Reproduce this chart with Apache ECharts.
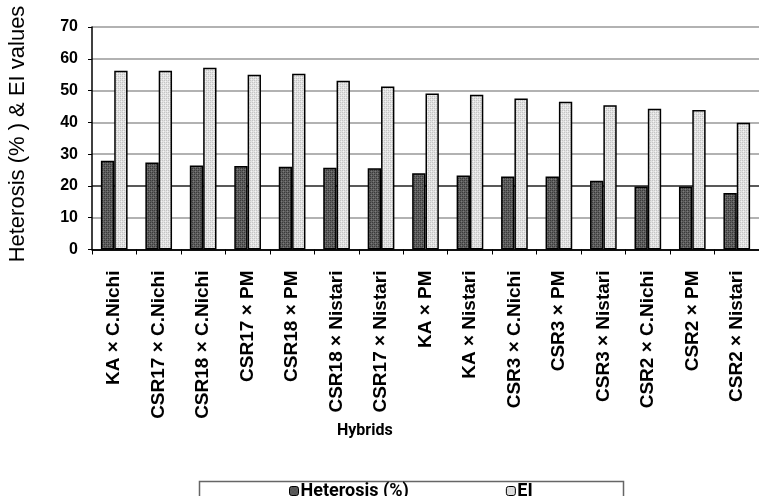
<!DOCTYPE html>
<html>
<head>
<meta charset="utf-8">
<script src="https://cdn.jsdelivr.net/npm/echarts@6/dist/echarts.min.js"></script>
<style>
  html, body { margin: 0; padding: 0; background: #fff; }
  #chart { width: 759px; height: 496px; }
</style>
</head>
<body>
<div id="chart"></div>
<script>
// Hybrid crosses, in order of decreasing heterosis
const hybrids = [
  'KA × C.Nichi', 'CSR17 × C.Nichi', 'CSR18 × C.Nichi', 'CSR17 × PM', 'CSR18 × PM',
  'CSR18 × Nistari', 'CSR17 × Nistari', 'KA × PM', 'KA × Nistari', 'CSR3 × C.Nichi',
  'CSR3 × PM', 'CSR3 × Nistari', 'CSR2 × C.Nichi', 'CSR2 × PM', 'CSR2 × Nistari'
];
const heterosis = [27.9, 27.4, 26.4, 26.3, 26.0, 25.7, 25.6, 24.0, 23.3, 23.0, 23.0, 21.6, 19.8, 19.8, 17.8];
const eiValues  = [56.2, 56.2, 57.2, 55.0, 55.3, 53.1, 51.3, 49.1, 48.7, 47.5, 46.5, 45.4, 44.3, 43.9, 39.9];
const yTicks = [0, 10, 20, 30, 40, 50, 60, 70];

// Small stippled fills for the bars
function stipple(base, dot, alt) {
  const c = document.createElement('canvas');
  c.width = 4; c.height = 4;
  const g = c.getContext('2d');
  g.fillStyle = base; g.fillRect(0, 0, 4, 4);
  g.fillStyle = dot;
  g.fillRect(0, 0, 1, 1); g.fillRect(2, 2, 1, 1);
  g.fillRect(2, 0, 1, 1); g.fillRect(0, 2, 1, 1);
  g.fillStyle = alt;
  g.fillRect(1, 1, 1, 1); g.fillRect(3, 3, 1, 1);
  return { image: c, repeat: 'repeat' };
}
const darkFill = stipple('#5e5e5e', '#3a3a3a', '#7a7a7a');
const lightFill = stipple('#e2e2e2', '#c4c4c4', '#f4f4f4');

const chart = echarts.init(document.getElementById('chart'), null, { renderer: 'canvas' });

const gridLeft = 92, gridTop = 27, gridWidth = 673.5, gridHeight = 222.5;

chart.setOption({
  animation: false,
  textStyle: { fontFamily: 'Liberation Sans, Arial, sans-serif' },
  grid: { left: gridLeft, top: gridTop, width: gridWidth, height: gridHeight, containLabel: false },
  legend: {
    left: 284, top: 477,
    itemWidth: 9, itemHeight: 9, itemGap: 97,
    textStyle: { fontFamily: 'Roboto, sans-serif', fontWeight: 'bold', fontSize: 18, color: '#000', padding: [0, 0, 0, -3] },
    data: [
      { name: 'Heterosis (%)', itemStyle: { color: darkFill, borderColor: '#000', borderWidth: 1 } },
      { name: 'EI', itemStyle: { color: lightFill, borderColor: '#000', borderWidth: 1 } }
    ]
  },
  xAxis: {
    type: 'category',
    data: hybrids,
    boundaryGap: true,
    axisLine: { lineStyle: { color: '#000', width: 1.5 } },
    axisTick: { show: true, inside: false, length: 5, alignWithLabel: false, lineStyle: { color: '#000' } },
    axisLabel: {
      rotate: 90, margin: 21, interval: 0,
      fontFamily: 'Liberation Sans, Arial, sans-serif', fontWeight: 'bold', fontSize: 19, color: '#000'
    }
  },
  yAxis: {
    type: 'value',
    min: 0, max: 70, interval: 10,
    axisLine: { show: true, lineStyle: { color: '#000', width: 1.5 } },
    axisTick: { show: true, length: 4, lineStyle: { color: '#000' } },
    axisLabel: {
      margin: 14, fontWeight: 'bold', fontSize: 16, color: '#000',
      formatter: v => (yTicks.indexOf(v) >= 0 ? String(v) : '')
    },
    splitLine: {
      show: true,
      lineStyle: { color: ['#000', '#999', '#222', '#999', '#999', '#999', '#999', '#999'], width: 1.5 }
    }
  },
  graphic: [
    {
      type: 'text', rotation: Math.PI / 2, x: 7, y: 134,
      style: {
        text: 'Heterosis (% ) & EI values',
        font: '22px "Liberation Sans", Arial, sans-serif', fill: '#000',
        align: 'center', verticalAlign: 'top'
      }
    },
    {
      type: 'text', left: 337, top: 423,
      style: { text: 'Hybrids', font: 'bold 16px Roboto, sans-serif', fill: '#000' }
    },
    {
      type: 'rect', left: 197, top: 479,
      shape: { width: 424, height: 16 },
      style: { fill: 'none', stroke: '#666', lineWidth: 1.5 },
      z: -1
    }
  ],
  series: [
    {
      name: 'Heterosis (%)', type: 'bar', data: heterosis,
      barWidth: '30%', barGap: '0%',
      itemStyle: { color: darkFill, borderColor: '#000', borderWidth: 1.5 }
    },
    {
      name: 'EI', type: 'bar', data: eiValues,
      barWidth: '30%', barGap: '0%',
      itemStyle: { color: lightFill, borderColor: '#000', borderWidth: 1.5 }
    }
  ]
});
</script>
</body>
</html>
